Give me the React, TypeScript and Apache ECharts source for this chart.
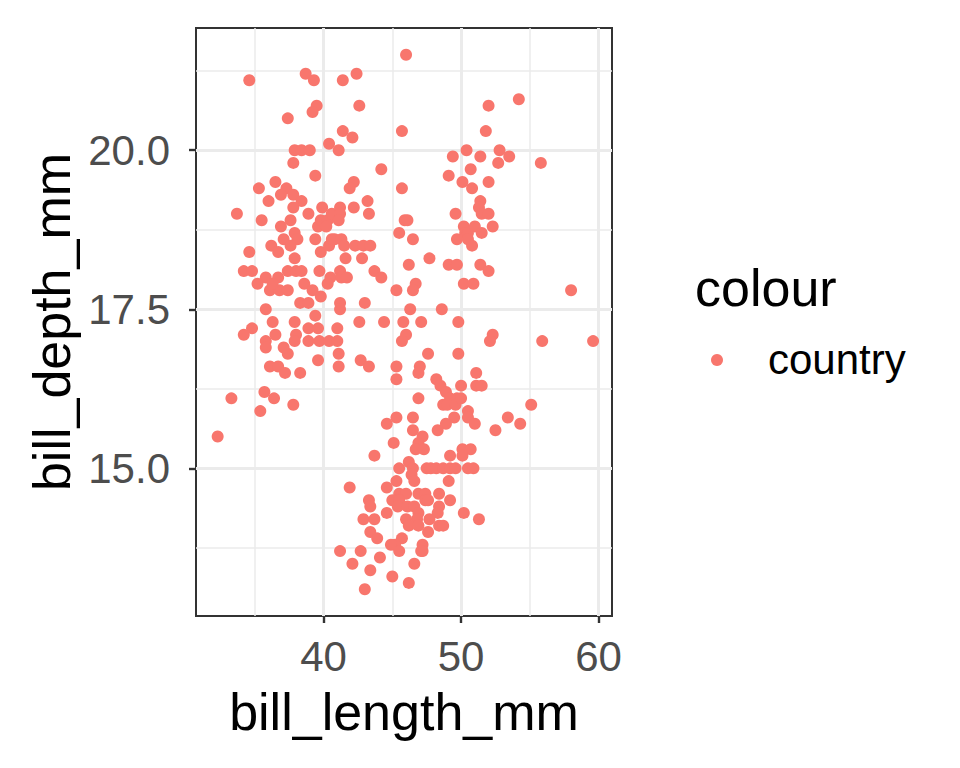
import React, { useEffect, useRef } from "react";
import * as echarts from "echarts";

// bill_length_mm, bill_depth_mm pairs
const upperPoints: number[][] = [
  [46.0, 21.5], [34.6, 21.1], [38.7, 21.2], [39.3, 21.1], [41.4, 21.1], [42.4, 21.2],
  [54.2, 20.8], [52.0, 20.7], [39.5, 20.7], [39.2, 20.6], [37.4, 20.5], [42.6, 20.7],
  [41.4, 20.3], [42.1, 20.2], [45.7, 20.3], [51.8, 20.3], [40.4, 20.1], [37.9, 20.0],
  [38.4, 20.0], [39.0, 20.0], [41.1, 20.0], [52.8, 20.0], [50.4, 20.0], [37.8, 19.8],
  [49.4, 19.9], [51.4, 19.9], [53.5, 19.9], [52.7, 19.8], [55.8, 19.8], [39.4, 19.6],
  [44.2, 19.7], [49.1, 19.6], [50.7, 19.7],
];

const middleLeftPoints: number[][] = [
  [36.5, 19.5], [35.3, 19.4], [37.3, 19.4], [36.9, 19.3], [37.8, 19.3], [36.0, 19.2],
  [38.4, 19.2], [33.7, 19.0], [37.8, 19.1], [39.9, 19.1], [35.5, 18.9], [37.6, 18.9],
  [38.9, 19.0], [36.9, 18.8], [37.9, 18.7], [39.6, 18.8], [39.8, 18.9], [40.3, 18.9],
  [39.4, 18.6], [38.1, 18.6], [37.1, 18.6], [36.2, 18.5], [36.7, 18.4], [37.6, 18.5],
  [34.6, 18.4], [37.9, 18.3], [39.8, 18.4], [40.4, 18.5], [40.6, 18.6], [34.2, 18.1],
  [34.8, 18.1], [35.8, 18.0], [36.7, 18.0], [37.4, 18.1], [38.0, 18.1], [38.4, 18.1],
  [35.2, 17.9], [36.1, 17.8], [36.8, 17.8], [37.4, 17.8], [36.3, 17.9], [38.6, 17.9],
  [39.7, 18.1], [39.2, 17.8], [39.8, 17.7], [40.5, 18.0], [38.3, 17.6], [38.9, 17.6],
  [39.4, 17.4], [35.8, 17.5], [36.3, 17.3], [37.9, 17.3], [40.2, 18.8], [40.6, 19.0],
  [40.8, 18.6], [40.3, 17.9], [41.2, 19.1], [41.2, 19.0], [41.1, 18.9], [41.3, 18.6],
  [41.5, 18.5], [41.2, 18.1], [41.3, 18.0], [41.2, 17.6], [41.2, 17.5],
];

const middleRightPoints: number[][] = [
  [42.2, 19.5], [41.9, 19.4], [45.7, 19.4], [43.2, 19.2], [42.2, 19.1], [43.3, 19.0],
  [45.9, 18.9], [46.1, 18.9], [45.5, 18.7], [46.5, 18.6], [42.3, 18.5], [42.9, 18.5],
  [43.4, 18.5], [41.6, 18.3], [42.8, 18.3], [47.7, 18.3], [46.2, 18.2], [49.1, 18.2],
  [49.7, 18.2], [43.7, 18.1], [44.2, 18.0], [41.7, 18.0], [46.7, 17.9], [46.5, 17.8],
  [45.3, 17.8], [50.2, 17.9], [50.9, 17.9], [43.0, 17.6], [46.3, 17.5], [48.6, 17.5],
  [42.6, 17.3], [44.4, 17.3], [45.8, 17.3], [47.1, 17.3], [49.8, 17.3], [50.1, 19.5],
  [50.8, 19.4], [49.6, 19.0], [50.2, 18.8], [50.3, 18.7], [49.7, 18.6], [50.5, 18.7],
  [50.5, 18.6], [50.8, 18.5], [52.0, 19.5], [51.4, 19.2], [51.3, 19.1], [51.5, 19.0],
  [52.0, 19.0], [51.0, 18.8], [51.5, 18.7], [52.3, 18.8], [51.4, 18.2], [52.0, 18.1],
  [58.0, 17.8],
];

const lowerLeftPoints: number[][] = [
  [34.8, 17.2], [34.2, 17.1], [36.5, 17.1], [35.8, 17.0], [35.8, 16.9], [38.0, 17.1],
  [37.9, 17.0], [38.9, 17.2], [39.6, 17.2], [38.9, 17.0], [39.7, 17.0], [40.4, 17.0],
  [37.4, 16.8], [37.1, 16.9], [39.6, 16.7], [36.1, 16.6], [36.7, 16.6], [37.2, 16.5],
  [38.3, 16.5], [35.7, 16.2], [36.4, 16.1], [33.3, 16.1], [37.8, 16.0], [35.4, 15.9],
  [32.3, 15.5], [41.0, 17.2], [41.0, 17.0], [41.1, 16.8], [41.1, 16.6],
];

const lowerRightPoints: number[][] = [
  [46.0, 17.1], [45.7, 17.0], [47.6, 16.8], [49.8, 16.8], [42.7, 16.7], [43.3, 16.6],
  [45.3, 16.6], [45.3, 16.4], [47.0, 16.6], [46.9, 16.5], [51.1, 16.5], [48.2, 16.4],
  [48.5, 16.3], [50.0, 16.3], [48.9, 16.2], [49.2, 16.1], [49.7, 16.1], [46.9, 16.1],
  [48.7, 16.0], [50.5, 15.9], [50.5, 15.8], [49.5, 15.8], [48.9, 15.7], [48.3, 15.6],
  [45.3, 15.8], [44.6, 15.7], [46.5, 15.8], [46.5, 15.6], [45.1, 15.4], [47.2, 15.5],
  [46.9, 15.4], [46.7, 15.3], [47.3, 15.3], [43.7, 15.2], [50.1, 15.3], [50.7, 15.3],
  [49.2, 15.2], [50.1, 15.2], [49.0, 16.0], [49.6, 16.0], [50.0, 16.1], [51.1, 16.3],
  [52.3, 17.1], [52.1, 17.0], [55.9, 17.0], [59.6, 17.0], [51.5, 16.3], [55.1, 16.0],
  [53.4, 15.8], [54.3, 15.7], [52.5, 15.6], [51.0, 15.7],
];

const bottomPoints: number[][] = [
  [45.5, 15.0], [46.2, 15.1], [46.5, 15.0], [47.5, 15.0], [47.8, 15.0], [48.2, 15.0],
  [48.7, 15.0], [49.2, 15.0], [49.6, 15.0], [50.5, 15.0], [50.9, 15.0],
  [46.4, 14.9], [46.6, 14.8], [45.3, 14.8], [49.1, 14.8], [41.9, 14.7], [44.6, 14.7],
  [45.5, 14.6], [46.0, 14.6], [45.0, 14.5], [45.5, 14.5], [46.9, 14.6], [47.4, 14.6],
  [48.4, 14.6], [49.2, 14.5], [43.3, 14.5], [43.4, 14.4], [45.4, 14.4], [46.1, 14.4],
  [46.6, 14.4], [47.4, 14.5], [47.6, 14.5], [48.4, 14.4], [48.3, 14.3], [44.6, 14.3],
  [46.9, 14.3], [50.2, 14.3], [42.9, 14.2], [43.7, 14.2], [46.0, 14.2], [46.8, 14.2],
  [47.7, 14.2], [46.2, 14.1], [46.9, 14.1], [48.4, 14.1], [48.7, 14.1], [43.4, 14.0],
  [43.9, 13.9], [47.6, 14.0], [45.7, 13.9], [45.2, 13.8], [44.9, 13.8], [47.2, 13.8],
  [47.2, 13.7], [47.1, 13.7], [45.5, 13.7], [41.2, 13.7], [42.7, 13.7], [42.1, 13.5],
  [44.1, 13.6], [43.4, 13.4], [46.6, 13.5], [45.0, 13.3], [46.2, 13.2], [43.0, 13.1],
  [51.3, 14.2],
];

const xMajorTicks = [40, 50, 60];
const xMinorTicks = [35, 45, 55];
const yMajorTicks = [15, 17.5, 20];
const yMinorTicks = [13.75, 16.25, 18.75, 21.25];
const xRange = [30.725, 60.975];
const yRange = [12.68, 21.92];

const FONT = "'Liberation Sans', Arial, sans-serif";
const POINT_COLOR = "#F8766D";

export default function App() {
  const ref = useRef<HTMLDivElement>(null);

  useEffect(() => {
    if (!ref.current) return;
    const chart = echarts.init(ref.current, null, { renderer: "svg" });
    const allPoints = [
      ...upperPoints,
      ...middleLeftPoints,
      ...middleRightPoints,
      ...lowerLeftPoints,
      ...lowerRightPoints,
      ...bottomPoints,
    ];
    const gridLineData = [
      ...xMinorTicks.map((v) => ({ xAxis: v, lineStyle: { color: "#EBEBEB", width: 1.5, type: "solid" } })),
      ...yMinorTicks.map((v) => ({ yAxis: v, lineStyle: { color: "#EBEBEB", width: 1.5, type: "solid" } })),
      ...xMajorTicks.map((v) => ({ xAxis: v, lineStyle: { color: "#EBEBEB", width: 3, type: "solid" } })),
      ...yMajorTicks.map((v) => ({ yAxis: v, lineStyle: { color: "#EBEBEB", width: 3, type: "solid" } })),
    ];
    const option: any = {
      animation: false,
      backgroundColor: "#FFFFFF",
      textStyle: { fontFamily: FONT },
      grid: {
        left: 196,
        top: 28,
        width: 416,
        height: 588,
        show: true,
        backgroundColor: "#FFFFFF",
        borderColor: "#333333",
        borderWidth: 2,
        containLabel: false,
        outerBoundsMode: "none",
      },
      xAxis: {
        type: "value",
        min: xRange[0],
        max: xRange[1],
        name: "bill_length_mm",
        nameLocation: "middle",
        nameGap: 70,
        nameTextStyle: { fontSize: 52, color: "#000000", fontFamily: FONT },
        axisLine: { show: false },
        axisTick: { show: true, length: 7, lineStyle: { color: "#333333", width: 2.4 }, customValues: xMajorTicks },
        axisLabel: { customValues: xMajorTicks, fontSize: 42, color: "#4D4D4D", margin: 19, fontFamily: FONT },
        splitLine: { show: false },
      },
      yAxis: {
        type: "value",
        min: yRange[0],
        max: yRange[1],
        name: "bill_depth_mm",
        nameLocation: "middle",
        nameGap: 118,
        nameTextStyle: { fontSize: 52, color: "#000000", fontFamily: FONT },
        axisLine: { show: false },
        axisTick: { show: true, length: 7, lineStyle: { color: "#333333", width: 2.4 }, customValues: yMajorTicks },
        axisLabel: {
          customValues: yMajorTicks,
          fontSize: 42,
          color: "#4D4D4D",
          margin: 26,
          fontFamily: FONT,
          formatter: (v: number) => v.toFixed(1),
        },
        splitLine: { show: false },
      },
      series: [
        {
          name: "grid",
          type: "scatter",
          data: [],
          z: 1,
          silent: true,
          markLine: {
            silent: true,
            z: 1,
            symbol: ["none", "none"],
            label: { show: false },
            emphasis: { disabled: true },
            data: gridLineData,
          },
        },
        {
          name: "country",
          type: "scatter",
          z: 3,
          symbol: "circle",
          symbolSize: 12,
          itemStyle: { color: POINT_COLOR, opacity: 1 },
          data: allPoints,
        },
      ],
      graphic: [
        {
          type: "text",
          left: 695,
          top: 262,
          style: { text: "colour", font: `52px ${FONT}`, fill: "#000000" },
        },
        {
          type: "circle",
          shape: { cx: 717, cy: 360, r: 6 },
          style: { fill: POINT_COLOR },
        },
        {
          type: "text",
          left: 768,
          top: 338,
          style: { text: "country", font: `42px ${FONT}`, fill: "#000000" },
        },
      ],
    };
    chart.setOption(option);
    return () => chart.dispose();
  }, []);

  return (
    <div
      ref={ref}
      style={{ position: "absolute", left: 0, top: 0, width: 960, height: 768 }}
    />
  );
}
